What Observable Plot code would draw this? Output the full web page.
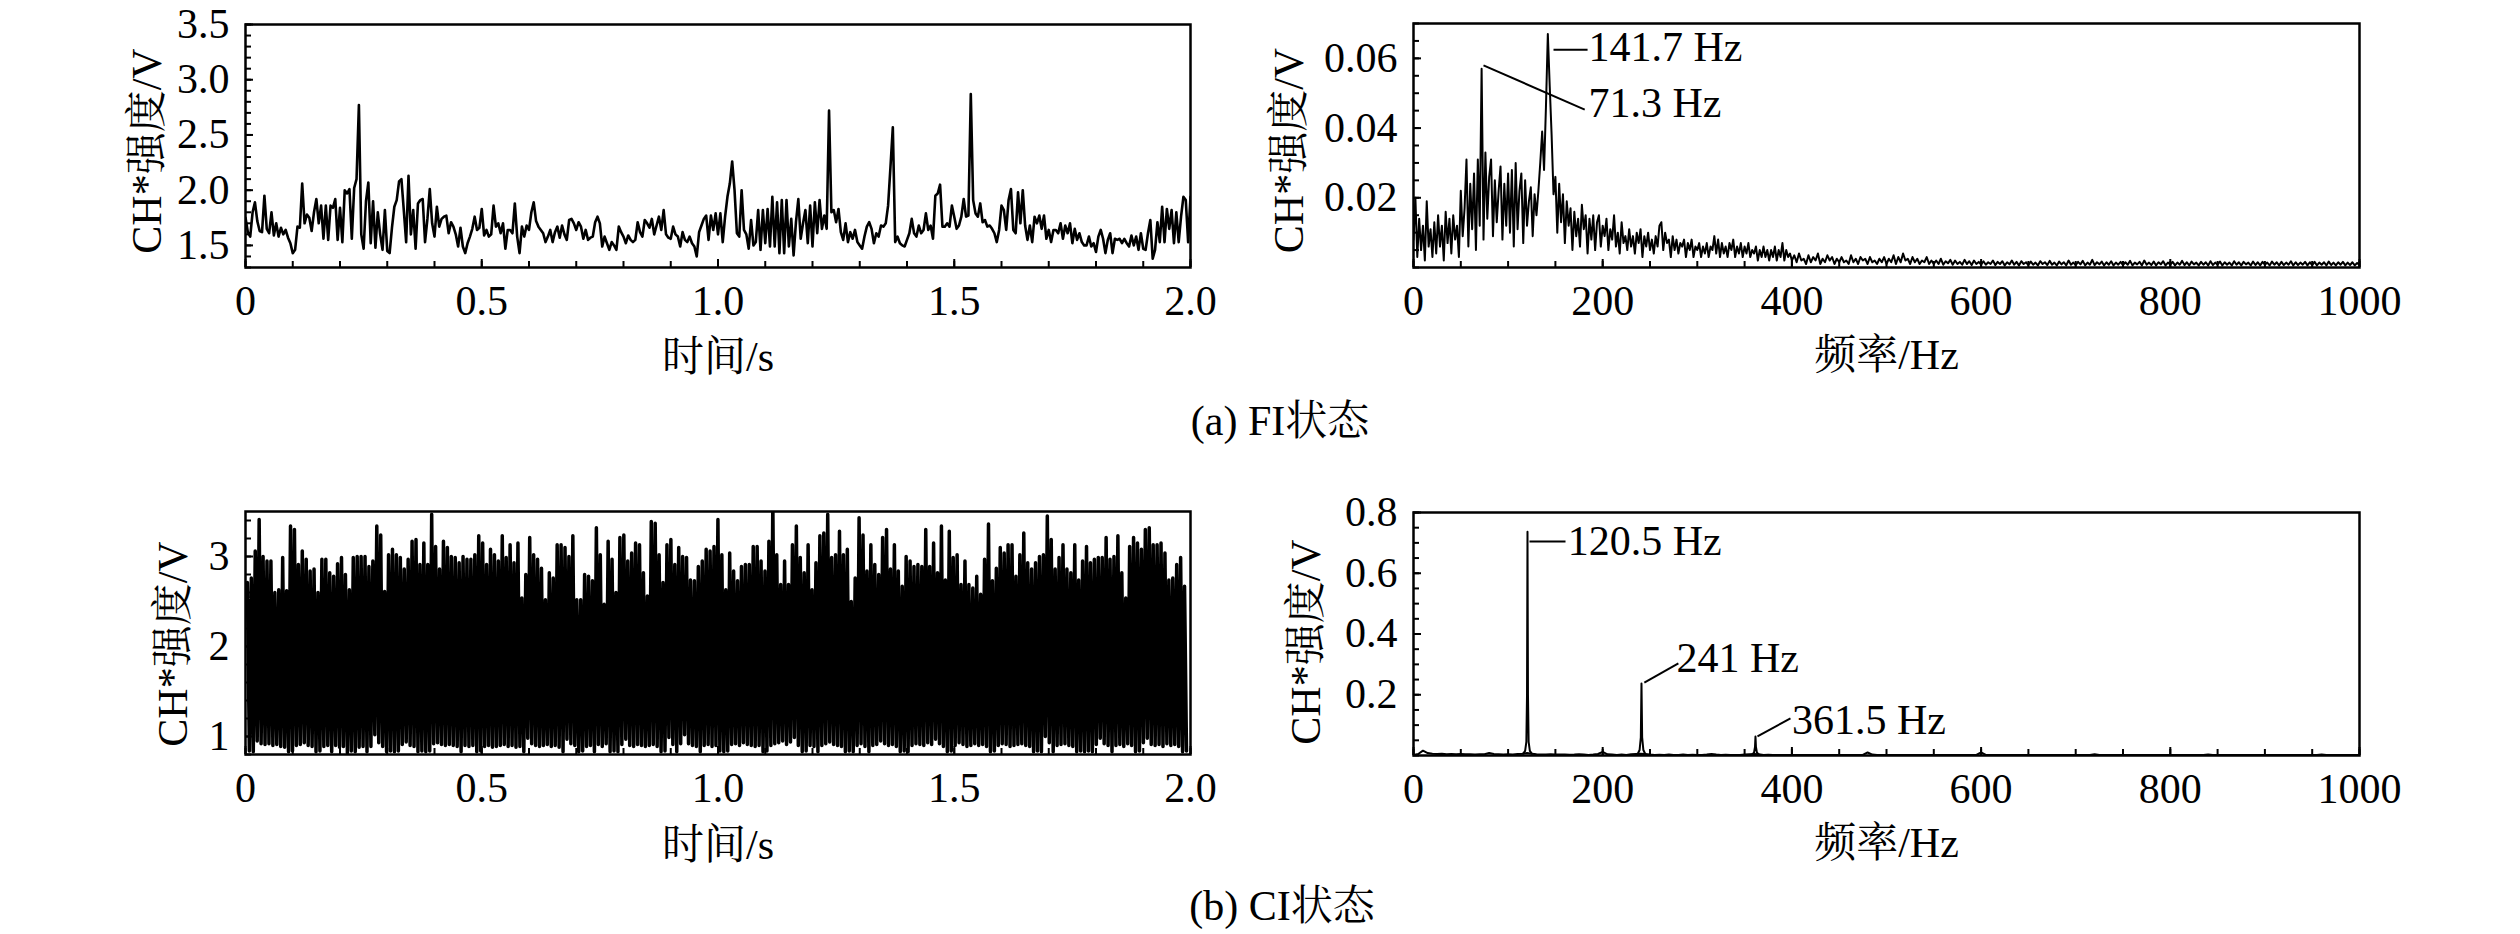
<!DOCTYPE html>
<html><head><meta charset="utf-8">
<script src="https://cdn.jsdelivr.net/npm/d3@7"></script>
<script src="https://cdn.jsdelivr.net/npm/@observablehq/plot@0.6"></script>
<style>
html,body{margin:0;padding:0;background:#fff;}
#root{position:relative;width:2520px;height:934px;overflow:hidden;background:#fff;}
.panel{position:absolute;}
.caption{position:absolute;font-family:"Liberation Serif","Times New Roman","Noto Serif CJK SC","Noto Sans CJK SC",serif;font-size:42px;line-height:1;transform:translate(-50%,-50%);white-space:nowrap;color:#000;}
</style></head><body><div id="root"></div>
<script>
// ---------------- data ----------------
// (a) FI time signal, one value every 0.005 s from 0 to 2 s
const fiTimeStep = 0.005;
const fiTimeValues = [
1.75,1.62,1.58,1.80,1.89,1.72,1.63,1.62,1.95,1.65,
1.61,1.80,1.59,1.70,1.58,1.66,1.60,1.64,1.57,1.52,
1.43,1.46,1.67,1.66,2.06,1.70,1.78,1.75,1.63,1.80,
1.92,1.70,1.86,1.56,1.86,1.55,1.86,1.84,1.92,1.55,
1.84,1.53,2.00,1.97,2.01,1.56,2.02,2.10,2.77,1.60,
1.47,1.90,2.07,1.52,1.90,1.48,1.80,1.60,1.46,1.82,
1.45,1.43,1.66,1.85,1.91,2.08,2.10,1.82,1.53,2.13,
1.60,1.82,1.47,1.88,1.91,1.92,1.53,1.74,2.01,1.70,
1.58,1.85,1.67,1.74,1.76,1.77,1.61,1.71,1.67,1.60,
1.49,1.66,1.49,1.43,1.52,1.58,1.65,1.76,1.64,1.66,
1.83,1.59,1.64,1.58,1.60,1.86,1.67,1.70,1.61,1.70,
1.47,1.64,1.64,1.61,1.88,1.58,1.43,1.67,1.58,1.68,
1.64,1.80,1.89,1.72,1.67,1.64,1.61,1.53,1.58,1.64,
1.53,1.62,1.67,1.57,1.68,1.60,1.55,1.73,1.74,1.70,
1.64,1.71,1.67,1.56,1.64,1.55,1.57,1.58,1.71,1.76,
1.70,1.49,1.58,1.52,1.46,1.53,1.50,1.46,1.67,1.62,
1.58,1.52,1.59,1.55,1.53,1.55,1.71,1.62,1.58,1.73,
1.70,1.66,1.74,1.60,1.68,1.76,1.64,1.82,1.60,1.57,
1.56,1.67,1.60,1.58,1.49,1.62,1.55,1.53,1.58,1.52,
1.49,1.40,1.62,1.68,1.74,1.77,1.55,1.77,1.64,1.79,
1.60,1.79,1.53,1.76,1.94,2.06,2.26,2.00,1.61,1.58,
2.00,1.64,1.60,1.47,1.73,1.50,1.53,1.82,1.46,1.82,
1.52,1.83,1.49,1.94,1.49,1.89,1.43,1.91,1.43,1.91,
1.49,1.74,1.41,1.71,1.92,1.56,1.70,1.82,1.52,1.86,
1.49,1.89,1.61,1.91,1.65,1.77,1.65,2.72,1.80,1.82,
1.71,1.83,1.62,1.55,1.70,1.53,1.62,1.56,1.64,1.53,
1.50,1.47,1.58,1.67,1.71,1.65,1.52,1.61,1.58,1.68,
1.67,1.70,1.86,2.21,2.57,1.53,1.58,1.52,1.50,1.49,
1.55,1.61,1.74,1.61,1.58,1.68,1.61,1.64,1.79,1.64,
1.68,1.56,1.95,1.97,2.05,1.67,1.67,1.70,1.67,1.86,
1.76,1.65,1.68,1.76,1.92,1.76,1.77,2.87,1.91,1.79,
1.76,1.88,1.71,1.73,1.67,1.68,1.65,1.61,1.53,1.64,
1.86,1.82,1.64,1.91,2.01,1.64,1.61,1.98,1.70,2.00,
1.68,1.55,1.68,1.53,1.76,1.70,1.77,1.65,1.77,1.56,
1.64,1.53,1.64,1.64,1.61,1.70,1.56,1.68,1.61,1.70,
1.52,1.65,1.55,1.61,1.53,1.50,1.50,1.58,1.49,1.52,
1.44,1.58,1.64,1.56,1.43,1.55,1.61,1.43,1.56,1.55,
1.56,1.52,1.56,1.52,1.49,1.59,1.50,1.58,1.46,1.61,
1.47,1.46,1.61,1.73,1.38,1.46,1.71,1.53,1.85,1.53,
1.83,1.65,1.82,1.52,1.80,1.53,1.76,1.94,1.91,1.53,
1.94];

// (a) FI spectrum: 0-400 Hz every 2 Hz, 402.5-1000 Hz every 2.5 Hz
const fiSpecLowStep = 2;
const fiSpecLow = [
0.008,0.020,0.003,0.014,0.005,0.012,0.002,0.019,0.006,0.011,
0.003,0.013,0.004,0.015,0.006,0.012,0.002,0.016,0.007,0.014,
0.004,0.015,0.008,0.012,0.003,0.022,0.009,0.017,0.031,0.006,
0.024,0.011,0.027,0.005,0.031,0.012,0.057,0.008,0.033,0.014,
0.026,0.031,0.009,0.025,0.013,0.022,0.029,0.008,0.024,0.012,
0.027,0.010,0.028,0.006,0.030,0.011,0.022,0.027,0.007,0.025,
0.012,0.019,0.023,0.009,0.021,0.015,0.022,0.030,0.039,0.028,
0.046,0.067,0.052,0.038,0.021,0.026,0.010,0.024,0.013,0.021,
0.007,0.019,0.012,0.017,0.005,0.016,0.009,0.014,0.006,0.018,
0.011,0.015,0.004,0.014,0.008,0.015,0.005,0.013,0.015,0.006,
0.012,0.009,0.014,0.005,0.011,0.008,0.015,0.006,0.010,0.004,
0.013,0.007,0.009,0.005,0.011,0.006,0.009,0.004,0.010,0.007,
0.011,0.003,0.009,0.006,0.010,0.005,0.008,0.004,0.009,0.006,
0.012,0.013,0.005,0.010,0.007,0.008,0.003,0.009,0.005,0.008,
0.004,0.007,0.006,0.008,0.003,0.007,0.005,0.008,0.003,0.006,
0.005,0.007,0.003,0.006,0.004,0.007,0.003,0.006,0.005,0.009,
0.004,0.008,0.003,0.007,0.004,0.006,0.003,0.007,0.005,0.008,
0.003,0.006,0.004,0.007,0.003,0.006,0.004,0.007,0.003,0.005,
0.004,0.006,0.002,0.005,0.003,0.006,0.003,0.005,0.002,0.005,
0.003,0.006,0.002,0.005,0.003,0.007,0.002,0.005,0.003,0.004,
0.002];
const fiSpecHighStart = 402.5, fiSpecHighStep = 2.5;
const fiSpecHigh = [
0.0035,0.0015,0.004,0.002,0.0025,0.001,0.0035,0.0015,0.003,0.002,
0.004,0.001,0.0025,0.0015,0.0035,0.002,0.003,0.001,0.0025,0.0015,
0.003,0.0015,0.002,0.001,0.0035,0.0015,0.0025,0.001,0.003,0.002,
0.0025,0.001,0.003,0.0015,0.002,0.001,0.0025,0.0015,0.003,0.001,
0.0025,0.0015,0.0035,0.001,0.003,0.0015,0.004,0.002,0.0025,0.001,
0.003,0.0015,0.0025,0.001,0.002,0.0015,0.003,0.001,0.002,0.001,
0.002,0.001,0.0025,0.0008,0.0018,0.0012,0.0022,0.0008,0.002,0.001,
0.0016,0.0008,0.0022,0.001,0.0018,0.0007,0.002,0.001,0.0016,0.0008,
0.0018,0.0008,0.0015,0.001,0.002,0.0007,0.0016,0.001,0.0018,0.0006,
0.0015,0.0009,0.002,0.0008,0.0016,0.0006,0.0018,0.001,0.0015,0.0007,
0.0017,0.0008,0.0014,0.0006,0.0018,0.001,0.0015,0.0007,0.0019,0.0008,
0.0014,0.0006,0.0017,0.0009,0.0015,0.0006,0.002,0.0008,0.0014,0.0007,
0.0016,0.0009,0.0019,0.0006,0.0014,0.0008,0.0022,0.0007,0.0015,0.0009,
0.0017,0.0006,0.0015,0.0008,0.0018,0.0006,0.0014,0.0008,0.0016,0.0007,
0.0015,0.0008,0.0019,0.0006,0.0014,0.0009,0.0016,0.0006,0.002,0.0008,
0.0014,0.0007,0.0017,0.0006,0.0015,0.0009,0.0018,0.0006,0.0014,0.0008,
0.0016,0.0006,0.0014,0.0008,0.0019,0.0007,0.0015,0.0006,0.0017,0.0009,
0.0014,0.0006,0.0016,0.0008,0.0015,0.0006,0.0018,0.0007,0.0014,0.0008,
0.0017,0.0006,0.0015,0.0008,0.0014,0.0006,0.0018,0.0008,0.0015,0.0006,
0.0016,0.0009,0.0014,0.0006,0.0017,0.0007,0.0015,0.0006,0.0016,0.0008,
0.0014,0.0006,0.0017,0.0008,0.0015,0.0006,0.0016,0.0007,0.0014,0.0008,
0.0018,0.0006,0.0015,0.0007,0.0014,0.0008,0.0016,0.0006,0.0015,0.0007,
0.0016,0.0006,0.0014,0.0008,0.0015,0.0006,0.0017,0.0007,0.0014,0.0006,
0.0015,0.0008,0.0016,0.0006,0.0014,0.0007,0.0015,0.0006,0.0013,0.0007];

// (a) annotations
const fiAnnoLabels = ["141.7 Hz", "71.3 Hz"];
const fiAnnoLeaderFrom = [[148, 0.0625], [74, 0.0580]];
const fiAnnoLeaderTo = [[184, 0.0625], [181, 0.0453]];
const fiAnnoTextAt = [[185, 0.0631], [185, 0.0470]];

// (b) CI time signal: one peak and one trough per 120.5 Hz cycle
const ciCycleFreq = 120.5, ciFirstPeak = 0.004;
const ciPeaks = [
2.71,2.76,3.06,3.41,3.00,2.95,2.95,2.60,2.63,2.99,
2.62,3.34,3.30,2.91,3.06,2.97,2.84,2.86,2.60,2.97,
2.97,2.82,2.78,2.92,2.99,2.80,2.63,2.99,3.00,3.00,
3.00,2.89,2.95,3.34,3.24,2.61,3.02,3.08,3.02,2.99,
2.86,2.97,3.17,3.19,2.91,3.15,2.91,3.47,3.11,2.86,
3.17,3.10,3.00,2.99,2.93,3.00,2.97,2.97,3.02,3.23,
3.15,2.91,3.08,3.02,2.95,3.23,2.99,3.13,2.93,3.15,
2.54,2.80,3.21,3.02,2.97,2.87,2.52,2.82,2.76,3.13,
3.13,3.10,3.00,3.23,2.52,2.52,2.80,2.78,2.73,3.32,
3.02,2.47,3.17,2.97,2.60,3.21,3.24,2.95,3.04,3.15,
3.13,2.82,2.56,3.39,3.37,3.02,2.71,3.13,3.19,2.91,
3.10,3.00,2.99,2.74,2.73,2.89,2.95,3.08,3.06,3.11,
3.41,
3.02,2.63,3.04,2.84,2.73,2.89,2.91,2.91,3.11,3.11,
2.95,2.84,3.17,3.60,3.02,2.69,2.95,2.69,3.13,3.34,
2.99,2.82,3.13,2.63,2.93,3.23,3.26,3.47,2.99,3.02,
3.28,3.02,3.08,2.50,2.76,3.43,3.24,2.84,3.13,2.91,
2.80,3.21,3.30,2.86,3.13,2.84,2.67,3.00,2.95,2.89,
2.91,2.89,3.30,2.89,3.15,2.82,3.34,2.74,3.28,2.99,
3.02,2.69,2.95,2.69,2.65,2.78,2.58,2.97,3.36,2.73,
2.87,3.10,3.04,3.13,3.13,2.78,3.02,3.26,2.93,2.86,
2.93,3.00,3.02,3.45,3.19,2.86,2.99,3.13,2.86,2.82,
3.13,2.74,2.95,3.11,2.93,2.97,2.99,2.99,3.21,2.97,
3.00,3.23,2.82,2.54,3.11,3.21,3.15,3.08,3.30,3.32,
3.13,3.13,3.15,3.04,2.74,2.76,2.91,2.99,2.67];
const ciTroughs = [
0.84,0.83,0.95,0.92,0.91,0.92,0.90,0.91,0.89,0.88,
0.83,0.84,0.90,0.91,0.93,0.90,0.89,0.83,0.84,0.89,
0.90,0.83,0.90,0.88,0.89,0.82,0.84,0.83,0.88,0.89,
0.83,0.89,1.02,0.93,0.89,0.83,0.84,0.83,0.84,0.91,
0.94,0.90,0.89,0.83,0.84,0.83,0.84,0.92,0.93,0.91,
0.90,0.91,0.90,0.89,0.83,0.90,0.89,0.90,0.83,0.84,
0.89,0.90,0.88,0.89,0.90,0.91,0.89,0.90,0.88,0.89,
0.83,0.98,0.92,0.90,0.89,0.90,0.91,0.89,0.90,0.88,
0.83,0.97,0.92,0.90,0.83,0.84,0.89,0.90,0.83,0.91,
0.89,0.92,0.83,0.84,0.83,0.91,0.97,0.90,0.89,0.91,
0.90,0.89,0.90,0.91,0.89,0.83,0.84,0.99,0.91,0.83,
0.92,1.02,0.92,0.90,0.89,0.83,0.90,0.91,0.89,0.90,
0.84,0.83,0.84,0.91,0.92,0.90,0.93,0.91,0.90,0.89,
0.90,0.83,0.84,0.90,0.92,0.93,0.95,0.91,0.94,0.99,
0.90,0.83,0.84,0.90,0.89,0.83,0.90,0.92,0.94,0.91,
0.90,0.89,0.83,0.84,0.83,0.90,0.92,0.89,0.83,0.90,
0.91,0.95,0.92,0.90,0.91,0.89,0.83,0.84,0.83,0.90,
0.92,0.91,0.90,0.93,0.91,0.97,0.92,0.89,0.83,0.84,
0.90,0.93,0.91,0.89,0.90,0.92,0.90,0.91,0.89,0.83,
0.84,0.90,0.92,0.91,0.89,0.90,0.91,0.92,0.90,0.89,
0.83,0.84,0.83,1.00,0.93,0.83,0.90,0.91,0.92,0.90,
0.89,0.83,0.84,0.83,0.84,0.83,0.91,0.98,0.92,0.90,
0.83,0.90,0.91,0.89,0.92,0.90,0.83,0.84,0.93,0.98,
0.91,0.90,0.91,0.89,0.92,0.90,0.91,0.89,0.83,0.84];

// (b) CI spectrum: background every 5 Hz, plus the three harmonic peaks
const ciSpecStep = 5;
const ciSpecBase = [
0.002,0.005,0.016,0.008,0.006,0.005,0.006,0.004,0.005,0.004,
0.005,0.004,0.004,0.003,0.004,0.004,0.008,0.005,0.004,0.003,
0.004,0.003,0.005,0.006,0.008,0.006,0.004,0.003,0.003,0.004,
0.003,0.003,0.003,0.0025,0.003,0.004,0.003,0.002,0.003,0.005,
0.012,0.004,0.003,0.002,0.003,0.002,0.004,0.005,0.006,0.005,
0.003,0.002,0.0025,0.002,0.003,0.002,0.002,0.003,0.002,0.0025,
0.002,0.002,0.003,0.005,0.003,0.002,0.0025,0.002,0.002,0.002,
0.003,0.004,0.005,0.004,0.002,0.0025,0.002,0.002,0.002,0.0015,
0.002,0.0015,0.002,0.002,0.0015,0.002,0.002,0.0015,0.002,0.002,
0.0015,0.002,0.002,0.0015,0.002,0.002,0.010,0.003,0.002,0.0015,
0.002,0.0015,0.002,0.002,0.0015,0.002,0.0015,0.002,0.002,0.0015,
0.002,0.0015,0.002,0.0015,0.002,0.002,0.0015,0.002,0.0015,0.002,
0.010,0.002,0.0015,0.002,0.002,0.0015,0.002,0.0015,0.002,0.002,
0.0015,0.002,0.002,0.0015,0.002,0.0015,0.002,0.002,0.0015,0.002,
0.002,0.0015,0.002,0.002,0.004,0.002,0.0015,0.002,0.002,0.0015,
0.002,0.0015,0.002,0.002,0.0015,0.002,0.002,0.0015,0.002,0.0015,
0.002,0.0015,0.002,0.002,0.0015,0.002,0.002,0.0015,0.003,0.002,
0.0015,0.002,0.002,0.0015,0.002,0.0015,0.002,0.002,0.0015,0.002,
0.002,0.0015,0.002,0.002,0.0015,0.002,0.0015,0.002,0.002,0.0015,
0.002,0.0015,0.003,0.002,0.0015,0.002,0.002,0.0015,0.002,0.0015,
0.002];
const ciPeakFreqs = [
  [116, 118, 119.3, 120, 120.5, 121, 121.7, 123, 125],
  [237, 239, 240.3, 241, 241.7, 243, 245],
  [358, 360, 361, 361.5, 362, 363, 365]
];
const ciPeakAmps = [
  [0.006, 0.015, 0.045, 0.2, 0.737, 0.2, 0.045, 0.015, 0.006],
  [0.005, 0.018, 0.06, 0.237, 0.06, 0.018, 0.005],
  [0.003, 0.010, 0.028, 0.0625, 0.028, 0.010, 0.003]
];
const ciAnnoLabels = ["120.5 Hz", "241 Hz", "361.5 Hz"];
const ciAnnoLeaderFrom = [[122.6, 0.7045], [244, 0.240], [363.6, 0.063]];
const ciAnnoLeaderTo = [[160.7, 0.7045], [280, 0.303], [398.5, 0.122]];
const ciAnnoTextAt = [[163, 0.7045], [278, 0.319], [400, 0.115]];

// axes
const timeTicks = [0, 0.5, 1, 1.5, 2];
const timeTickLabels = ["0", "0.5", "1.0", "1.5", "2.0"];
const freqTicks = [0, 200, 400, 600, 800, 1000];
const freqTickLabels = ["0", "200", "400", "600", "800", "1000"];
const fiTimeYTicks = [1.5, 2.0, 2.5, 3.0, 3.5];
const fiTimeYLabels = ["1.5", "2.0", "2.5", "3.0", "3.5"];
const fiSpecYTicks = [0.02, 0.04, 0.06];
const fiSpecYLabels = ["0.02", "0.04", "0.06"];
const ciTimeYTicks = [1, 2, 3];
const ciTimeYLabels = ["1", "2", "3"];
const ciSpecYTicks = [0.2, 0.4, 0.6, 0.8];
const ciSpecYLabels = ["0.2", "0.4", "0.6", "0.8"];
const yTitle = "CH*强度/V";
const timeTitle = "时间/s";
const freqTitle = "频率/Hz";
const captions = ["(a) FI状态", "(b) CI状态"];

// ---------------- build rows ----------------
const fiTimeRows = fiTimeValues.map((v, i) => ({t: i * fiTimeStep, v}));
const fiSpecRows = [
  ...fiSpecLow.map((v, i) => ({f: i * fiSpecLowStep, v})),
  ...fiSpecHigh.map((v, i) => ({f: fiSpecHighStart + i * fiSpecHighStep, v}))
];
const ciPeriod = 1 / ciCycleFreq;
const ciTimeRows = [];
ciPeaks.forEach((p, k) => {
  ciTimeRows.push({t: ciFirstPeak + k * ciPeriod, v: p});
  ciTimeRows.push({t: ciFirstPeak + (k + 0.5) * ciPeriod, v: ciTroughs[k]});
});
const ciSpecRows = ciSpecBase.map((v, i) => ({f: i * ciSpecStep, v}));
const ciPeakRows = ciPeakFreqs.flatMap((fs, j) => fs.map((f, i) => ({f, v: ciPeakAmps[j][i], id: j})));
const mkAnno = (labels, from, to, at) => labels.map((label, i) => ({
  label, f1: from[i][0], v1: from[i][1], f2: to[i][0], v2: to[i][1], tf: at[i][0], tv: at[i][1]
}));
const fiAnnos = mkAnno(fiAnnoLabels, fiAnnoLeaderFrom, fiAnnoLeaderTo, fiAnnoTextAt);
const ciAnnos = mkAnno(ciAnnoLabels, ciAnnoLeaderFrom, ciAnnoLeaderTo, ciAnnoTextAt);

// ---------------- drawing ----------------
const FONT = '"Liberation Serif","Times New Roman","Noto Serif CJK SC","Noto Sans CJK SC",serif';
const root = document.getElementById("root");
const range = (a, b, s) => d3.range(Math.round((b - a) / s) + 1).map(i => +(a + i * s).toFixed(6));

function annoMarks(annos) {
  return [
    Plot.link(annos, {x1: "f1", y1: "v1", x2: "f2", y2: "v2", stroke: "black", strokeWidth: 2}),
    Plot.text(annos, {x: "tf", y: "tv", text: "label", textAnchor: "start", lineAnchor: "middle", fill: "black"})
  ];
}

function panel(o) {
  const fw = o.width - o.mL - o.mR, fh = o.height - o.mT - o.mB;
  const fmtX = d => o.xLabels[o.xTicks.indexOf(d)];
  const fmtY = d => o.yLabels[o.yTicks.indexOf(d)];
  const svg = Plot.plot({
    width: o.width, height: o.height,
    marginLeft: o.mL, marginRight: o.mR, marginTop: o.mT, marginBottom: o.mB,
    x: {domain: o.xDomain},
    y: {domain: o.yDomain},
    style: {fontFamily: FONT, fontSize: "42px", background: "transparent", color: "black", overflow: "visible"},
    marks: [
      ...o.marks,
      Plot.tickX(o.xMinor, {x: d => d, stroke: "black", strokeWidth: 2, insetTop: fh - 6}),
      Plot.tickX(o.xTicks, {x: d => d, stroke: "black", strokeWidth: 2, insetTop: fh - 8}),
      Plot.tickY(o.yMinor, {y: d => d, stroke: "black", strokeWidth: 2, insetRight: fw - 6}),
      Plot.tickY(o.yTicks, {y: d => d, stroke: "black", strokeWidth: 2, insetRight: fw - 8}),
      Plot.axisX({ticks: o.xTicks, tickSize: 0, tickPadding: 18, tickFormat: fmtX, label: null, fill: "black"}),
      Plot.axisY({ticks: o.yTicks, tickSize: 0, tickPadding: 16, tickFormat: fmtY, label: null, fill: "black"}),
      Plot.text([o.xTitle], {frameAnchor: "bottom", dy: o.xTitleDy, text: d => d, textAnchor: "middle", lineAnchor: "middle", fill: "black"}),
      Plot.text([o.yTitle], {frameAnchor: "left", dx: -o.yTitleDx, dy: o.yTitleDy, rotate: -90, text: d => d, textAnchor: "middle", lineAnchor: "middle", fill: "black"}),
      Plot.frame({stroke: "black", strokeWidth: 2.5})
    ]
  });
  const div = document.createElement("div");
  div.className = "panel";
  div.style.left = o.left + "px";
  div.style.top = o.top + "px";
  div.appendChild(svg);
  root.appendChild(div);
}

// (a) FI time
panel({
  left: 0, top: 0, width: 1210, height: 400, mL: 245, mR: 20, mT: 24, mB: 133,
  xDomain: [0, 2], yDomain: [1.3, 3.5],
  xTicks: timeTicks, xLabels: timeTickLabels, yTicks: fiTimeYTicks, yLabels: fiTimeYLabels,
  xMinor: range(0, 2, 0.1), yMinor: range(1.3, 3.5, 0.1),
  xTitle: timeTitle, xTitleDy: 90, yTitle, yTitleDx: 98, yTitleDy: 5,
  marks: [Plot.lineY(fiTimeRows, {x: "t", y: "v", stroke: "black", strokeWidth: 2.6, clip: true})]
});
// (a) FI spectrum
panel({
  left: 1260, top: 0, width: 1260, height: 400, mL: 153, mR: 161, mT: 23, mB: 133,
  xDomain: [0, 1000], yDomain: [0, 0.07],
  xTicks: freqTicks, xLabels: freqTickLabels, yTicks: fiSpecYTicks, yLabels: fiSpecYLabels,
  xMinor: range(0, 1000, 50), yMinor: range(0, 0.07, 0.005),
  xTitle: freqTitle, xTitleDy: 88, yTitle, yTitleDx: 124, yTitleDy: 5,
  marks: [Plot.lineY(fiSpecRows, {x: "f", y: "v", stroke: "black", strokeWidth: 2, clip: true}), ...annoMarks(fiAnnos)]
});
// (b) CI time
panel({
  left: 0, top: 470, width: 1210, height: 400, mL: 245, mR: 20, mT: 41, mB: 116,
  xDomain: [0, 2], yDomain: [0.8, 3.5],
  xTicks: timeTicks, xLabels: timeTickLabels, yTicks: ciTimeYTicks, yLabels: ciTimeYLabels,
  xMinor: range(0, 2, 0.1), yMinor: range(0.8, 3.4, 0.2),
  xTitle: timeTitle, xTitleDy: 91, yTitle, yTitleDx: 72, yTitleDy: 11,
  marks: [Plot.lineY(ciTimeRows, {x: "t", y: "v", stroke: "black", strokeWidth: 3.5, clip: true})]
});
// (b) CI spectrum
panel({
  left: 1260, top: 470, width: 1260, height: 400, mL: 153, mR: 161, mT: 42, mB: 115,
  xDomain: [0, 1000], yDomain: [0, 0.8],
  xTicks: freqTicks, xLabels: freqTickLabels, yTicks: ciSpecYTicks, yLabels: ciSpecYLabels,
  xMinor: range(0, 1000, 50), yMinor: range(0, 0.8, 0.05),
  xTitle: freqTitle, xTitleDy: 88, yTitle, yTitleDx: 107, yTitleDy: 8,
  marks: [
    Plot.lineY(ciSpecRows, {x: "f", y: "v", stroke: "black", strokeWidth: 2, clip: true}),
    Plot.lineY(ciPeakRows, {x: "f", y: "v", z: "id", stroke: "black", strokeWidth: 2, clip: true}),
    ...annoMarks(ciAnnos)
  ]
});

// captions
[[captions[0], 1280, 421], [captions[1], 1282, 906]].forEach(([txt, x, y]) => {
  const d = document.createElement("div");
  d.className = "caption";
  d.textContent = txt;
  d.style.left = x + "px";
  d.style.top = y + "px";
  root.appendChild(d);
});
</script></body></html>
